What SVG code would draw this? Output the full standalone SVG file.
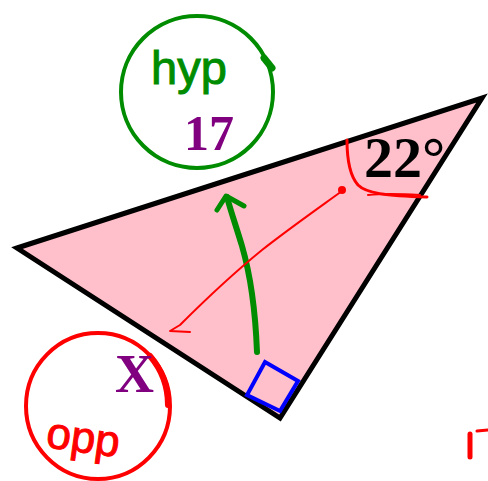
<svg xmlns="http://www.w3.org/2000/svg" width="488" height="481" viewBox="0 0 488 481">
<style>
.red{stroke:#FF0000;fill:none;stroke-linecap:round;stroke-linejoin:round}
.grn{stroke:#008C00;fill:none;stroke-linecap:round;stroke-linejoin:round}
.num{font-family:"Liberation Serif","Times New Roman",serif;font-weight:bold}
.hand{font-family:"Liberation Sans",Arial,sans-serif}
</style>
<rect width="488" height="481" fill="#FFFFFF"/>
<g id="triangle">
<polygon points="17,248 482,98 280,418" fill="#FFC0CB" stroke="#000000" stroke-width="5" stroke-linejoin="miter" stroke-miterlimit="12"/>
<polygon points="265,362 298,381 280,411 247,395" fill="none" stroke="#0000FF" stroke-width="4"/>
</g>
<g id="angle">
<path class="red" stroke-width="3" d="M347,140 C347,160 350,176 358,185 C366,193 385,196 427,197"/>
<path class="red" stroke-width="2" d="M368,195 C385,193 405,194 420,195"/>
<text class="num" x="364" y="177" font-size="58" fill="#000000">22°</text>
</g>
<g id="hyp">
<ellipse cx="197" cy="92" rx="76" ry="76" class="grn" stroke-width="4"/>
<path class="grn" stroke-width="7" d="M264,58 L272,68"/>
<text class="hand" x="151" y="84" font-size="47" fill="#008C00" stroke="#008C00" stroke-width="1">hyp</text>
<text class="num" x="184" y="150" font-size="50" fill="#800080">17</text>
</g>
<g id="opp">
<ellipse cx="98" cy="406" rx="72" ry="73" class="red" stroke-width="4"/>
<path class="red" stroke-width="6" d="M150,356 C162,370 168,385 168,405"/>
<text class="num" x="115" y="392" font-size="54" fill="#800080">X</text>
<text class="hand" x="45" y="447" font-size="44" fill="#FF0000" stroke="#FF0000" stroke-width="1" transform="rotate(8 45 447)">opp</text>
</g>
<g id="connectors">
<path class="grn" stroke-width="6" d="M257,352 C255,300 249,270 242,246 C236,226 231,212 227,197"/>
<path class="grn" stroke-width="5" d="M217,210 L226,196 L244,206"/>
<path class="red" stroke-width="2" d="M342,191 C320,207 290,228 262,250 C235,272 205,300 180,325 L170,331 L190,332"/>
<circle cx="342" cy="190" r="4" fill="#FF0000"/>
</g>
<g id="mark">
<path class="red" stroke-width="5" d="M470,434 L470,457"/>
<path class="red" stroke-width="3" d="M477,431 L488,430"/>
</g>
</svg>
